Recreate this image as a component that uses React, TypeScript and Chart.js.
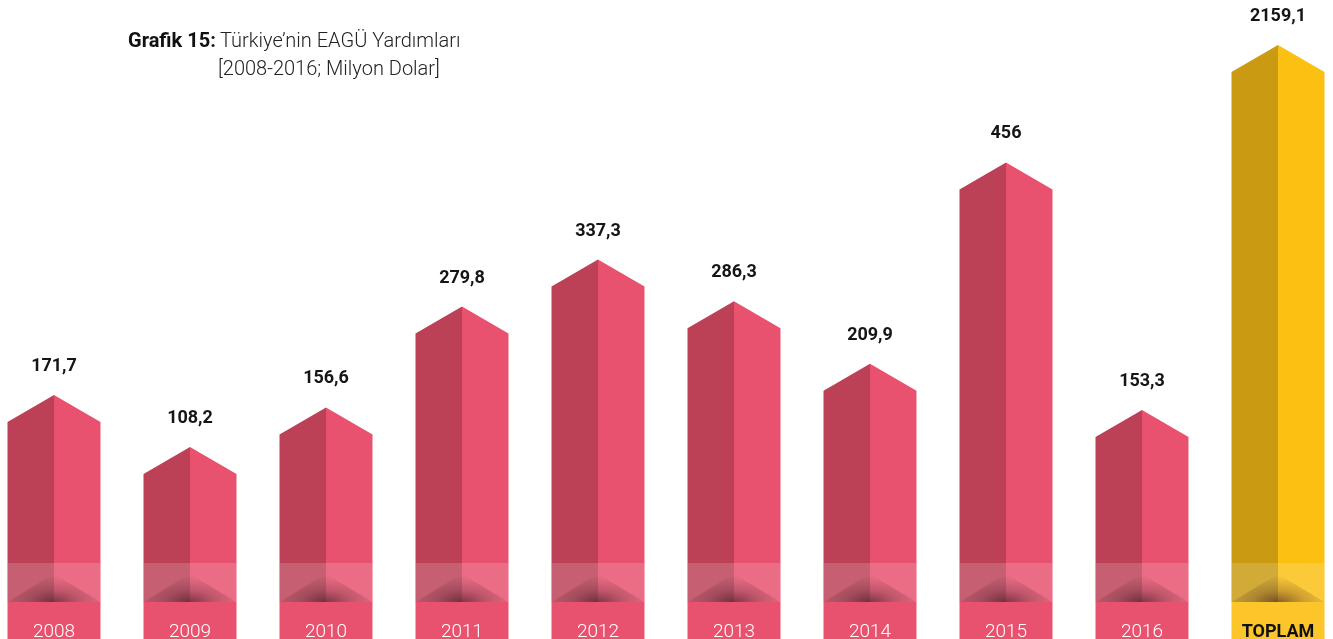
import React, { useEffect, useRef } from 'react';
import { Chart, registerables } from 'chart.js';

Chart.register(...registerables);

const categories = ['2008', '2009', '2010', '2011', '2012', '2013', '2014', '2015', '2016', 'TOPLAM'];
const yearValues = [171.7, 108.2, 156.6, 279.8, 337.3, 286.3, 209.9, 456, 153.3];
const totalValue = 2159.1;
const titleBold = 'Grafik 15:';
const titleLine1 = 'Türkiye’nin EAGÜ Yardımları';
const titleLine2 = '[2008-2016; Milyon Dolar]';

const Y_MIN = -48.3;
const Y_MAX = 687.6;
const Y2_MAX = 2452;

const RED = { dark: '#BC4157', light: '#E8526E', box: '#E8526E', text: '#FFFFFF' };
const GOLD = { dark: '#C99A12', light: '#FCC013', box: '#FCC62B', text: '#111111' };

const fmt = (v: number) => String(v).replace('.', ',');

const pencilPlugin = {
  id: 'pencilBars',
  afterDatasetsDraw(chart: any) {
    const ctx: CanvasRenderingContext2D = chart.ctx;
    const H = chart.height;
    chart.data.datasets.forEach((ds: any, di: number) => {
      const meta = chart.getDatasetMeta(di);
      const pal = di === 0 ? RED : GOLD;
      meta.data.forEach((el: any, i: number) => {
        const raw = ds.data[i];
        if (raw === null || raw === undefined) return;
        const { x, y, width, base } = el.getProps(['x', 'y', 'width', 'base'], true);
        const l = x - width / 2;
        const r = x + width / 2;
        const tip = 27;
        ctx.save();
        // left half
        ctx.fillStyle = pal.dark;
        ctx.beginPath();
        ctx.moveTo(l, base);
        ctx.lineTo(l, y);
        ctx.lineTo(x, y - tip);
        ctx.lineTo(x, base);
        ctx.closePath();
        ctx.fill();
        // right half
        ctx.fillStyle = pal.light;
        ctx.beginPath();
        ctx.moveTo(x, base);
        ctx.lineTo(x, y - tip);
        ctx.lineTo(r, y);
        ctx.lineTo(r, base);
        ctx.closePath();
        ctx.fill();
        // translucent band
        const bandTop = base - 39;
        ctx.fillStyle = 'rgba(255,255,255,0.16)';
        ctx.fillRect(l, bandTop, width, 39);
        // shadow
        ctx.save();
        ctx.beginPath();
        ctx.moveTo(l, base);
        ctx.lineTo(x, base - 28);
        ctx.lineTo(r, base);
        ctx.closePath();
        ctx.clip();
        ctx.translate(x, base);
        ctx.scale(1.2, 0.55);
        const g = ctx.createRadialGradient(0, 0, 0, 0, 0, 48);
        g.addColorStop(0, 'rgba(45,10,20,0.55)');
        g.addColorStop(0.45, 'rgba(45,10,20,0.22)');
        g.addColorStop(1, 'rgba(45,10,20,0)');
        ctx.fillStyle = g;
        ctx.fillRect(-60, -60, 120, 60);
        ctx.restore();
        // label box
        ctx.fillStyle = pal.box;
        ctx.fillRect(l, base, width, H - base);
        ctx.fillStyle = pal.text;
        ctx.textAlign = 'center';
        ctx.textBaseline = 'alphabetic';
        ctx.font = di === 0 ? '300 19px Roboto, "Noto Sans", sans-serif' : 'bold 18px Roboto, "Noto Sans", sans-serif';
        ctx.fillText(chart.data.labels[i], x, base + 35);
        // value label
        ctx.fillStyle = '#151515';
        ctx.font = 'bold 18px Roboto, sans-serif';
        ctx.fillText(fmt(raw), x, y - tip - 24);
        ctx.restore();
      });
    });
    // title
    ctx.save();
    ctx.textAlign = 'left';
    ctx.textBaseline = 'alphabetic';
    ctx.fillStyle = '#111111';
    const ox = 14;
    ctx.font = 'bold 20px Roboto, sans-serif';
    ctx.fillText(titleBold, 128 + ox, 47);
    ctx.fillStyle = '#222222';
    ctx.font = '300 20px Roboto, sans-serif';
    ctx.fillText(titleLine1, 220 + ox, 47);
    ctx.fillText(titleLine2, 218 + ox, 75);
    ctx.restore();
  },
};

export default function App() {
  const ref = useRef<HTMLCanvasElement | null>(null);
  useEffect(() => {
    if (!ref.current) return;
    const n = categories.length;
    const chart = new Chart(ref.current, {
      type: 'bar',
      data: {
        labels: categories,
        datasets: [
          {
            label: 'Yıllık',
            data: [...yearValues, null],
            yAxisID: 'y',
            base: Y_MIN,
            backgroundColor: 'rgba(0,0,0,0)',
            borderWidth: 0,
            categoryPercentage: 1,
            barPercentage: 93 / 136,
            grouped: false,
          },
          {
            label: 'Toplam',
            data: [...Array(n - 1).fill(null), totalValue],
            yAxisID: 'y2',
            base: 0,
            backgroundColor: 'rgba(0,0,0,0)',
            borderWidth: 0,
            categoryPercentage: 1,
            barPercentage: 93 / 136,
            grouped: false,
          },
        ] as any,
      },
      options: {
        animation: false,
        responsive: false,
        devicePixelRatio: 1,
        layout: { padding: { top: 0, bottom: 37, left: 0, right: 0 } },
        plugins: { legend: { display: false }, tooltip: { enabled: false }, title: { display: false } },
        scales: {
          x: { display: false, offset: true, grid: { display: false } },
          y: { display: false, min: Y_MIN, max: Y_MAX },
          y2: { display: false, min: 0, max: Y2_MAX, position: 'right' },
        },
      } as any,
      plugins: [pencilPlugin],
    });
    return () => chart.destroy();
  }, []);
  return (
    <div style={{ position: 'fixed', left: 0, top: 0, width: '100vw', height: '100vh', overflow: 'hidden', background: '#fff' }}>
      <div style={{ position: 'absolute', left: -14, top: 0, width: 1360, height: 639 }}>
        <canvas ref={ref} width={1360} height={639} style={{ width: 1360, height: 639, display: 'block' }} />
      </div>
    </div>
  );
}
